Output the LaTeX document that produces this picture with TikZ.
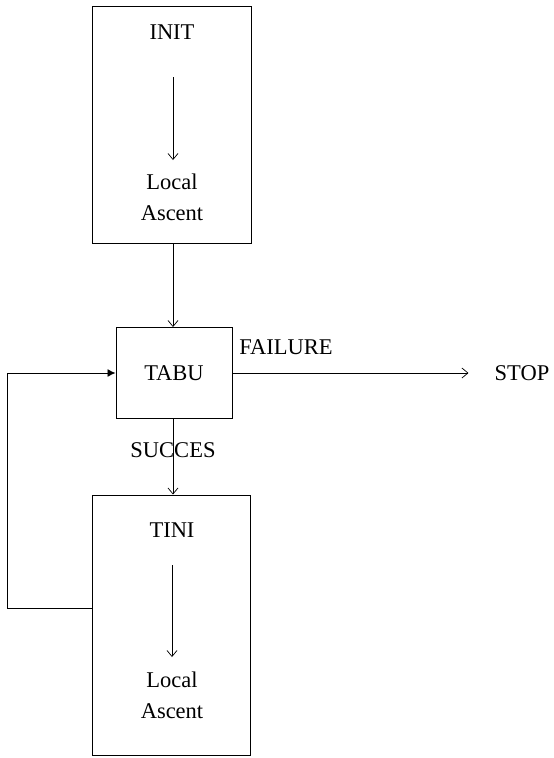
\documentclass[tikz,border=0pt]{standalone}
\usepackage{fontspec}
\setmainfont{Liberation Serif}
\usetikzlibrary{arrows.meta}
\begin{document}
\begin{tikzpicture}[x=1pt,y=-1pt,
  box/.style={draw, line width=1pt, inner sep=0pt},
  lbl/.style={font=\fontsize{22.5}{31}\selectfont, inner sep=0pt, align=center},
  openarr/.style={-{Straight Barb[length=6pt,width=10pt]}, line width=0.7pt},
  fillarr/.style={-{Latex[length=8pt,width=8pt]}, line width=0.9pt},
]
\useasboundingbox (0,0) rectangle (554,758);
% boxes
\node[box, minimum width=159pt, minimum height=237pt] (init) at (172,124.5) {};
\node[box, minimum width=116pt, minimum height=91pt, lbl, draw, line width=1pt] (tabu) at (174,373) {TABU};
\node[box, minimum width=158pt, minimum height=260pt] (tini) at (171,625) {};
% texts
\node[lbl] (initT) at (172,32) {INIT};
\node[lbl] (la1) at (172,197) {Local\\Ascent};
\node[lbl] (tiniT) at (172,530) {TINI};
\node[lbl] (la2) at (172,695) {Local\\Ascent};
\node[lbl] (fail) at (286,347) {FAILURE};
\node[lbl] (succ) at (173,450) {SUCCES};
\node[lbl] (stop) at (522,373) {STOP};
% inner arrows
\coordinate (a1s) at (173,77);
\coordinate (a1e) at (173,160);
\coordinate (a2s) at (172,565);
\coordinate (a2e) at (172,657);
\draw[openarr] (a1s) -- (a1e);
\draw[openarr] (a2s) -- (a2e);
% connectors
\draw[openarr] (init.south -| 173,0) -- (tabu.north -| 173,0);
\draw[openarr] (tabu.south -| 173,0) -- (tini.north -| 173,0);
\draw[openarr, shorten >=26pt] (tabu.east) -- (stop.west);
\coordinate (fbs) at (92,608);
\coordinate (fbc) at (7,373);
\draw[fillarr] (fbs) -| (fbc) -- (tabu.west);
\end{tikzpicture}
\end{document}
